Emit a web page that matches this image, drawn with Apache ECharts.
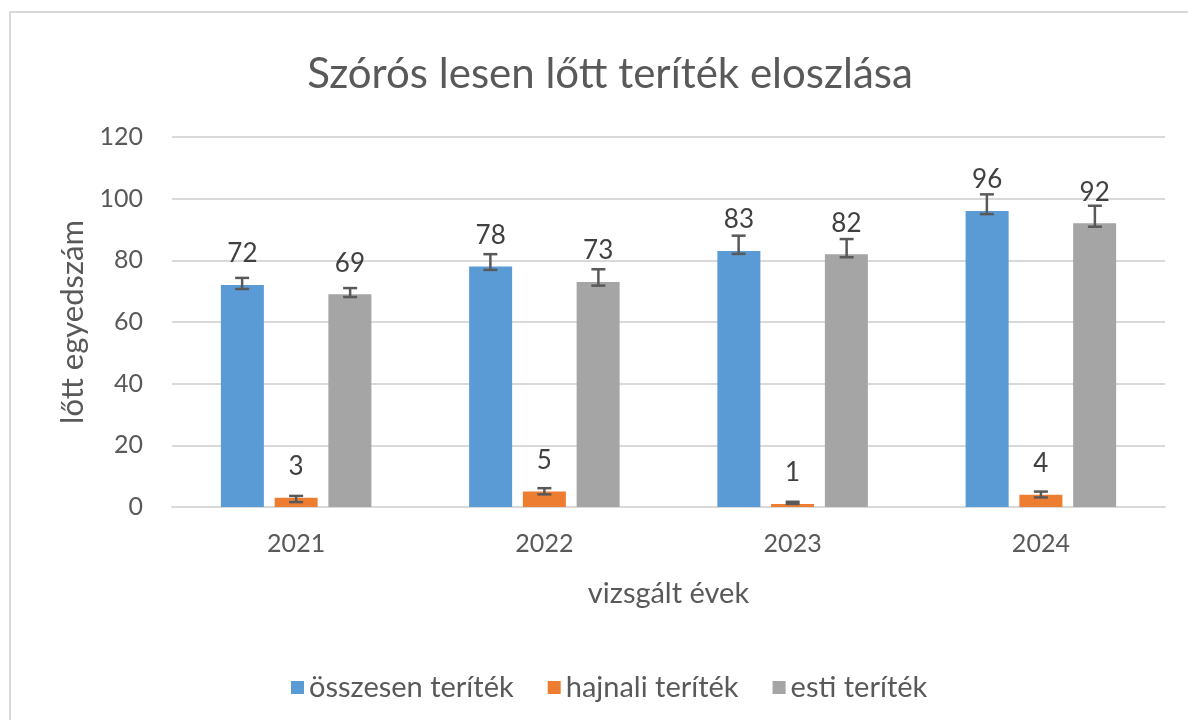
<!DOCTYPE html>
<html>
<head>
<meta charset="utf-8">
<script src="https://cdn.jsdelivr.net/npm/echarts@6/dist/echarts.min.js"></script>
<style>
  html, body { margin: 0; padding: 0; background: #fff; }
  #chart { width: 1188px; height: 720px; }
</style>
</head>
<body>
<div id="chart"></div>
<script>
// chart data
const years = ['2021', '2022', '2023', '2024'];
const seriesNames = ['összesen teríték', 'hajnali teríték', 'esti teríték'];
const totalValues = [72, 78, 83, 96];
const dawnValues = [3, 5, 1, 4];
const eveningValues = [69, 73, 82, 92];
// error bar ends
const totalErrLow = [70.7, 76.9, 82.1, 95.0];
const totalErrHigh = [74.3, 82.0, 88.0, 101.4];
const dawnErrLow = [1.6, 4.1, 1.0, 3.1];
const dawnErrHigh = [3.6, 6.1, 1.7, 5.0];
const eveningErrLow = [68.1, 71.8, 81.0, 90.9];
const eveningErrHigh = [71.0, 77.1, 86.9, 97.7];
const yTicks = [0, 20, 40, 60, 80, 100, 120];

const colors = ['#5B9BD5', '#ED7D31', '#A5A5A5'];
const textColor = '#595959';
const fontFamily = 'Lato, "Open Sans", sans-serif';
const barWidth = 43;
const barGapPx = 11;

const chart = echarts.init(document.getElementById('chart'));

function barSeries(name, values, color) {
    return {
        name: name,
        type: 'bar',
        data: values,
        barWidth: barWidth,
        barGap: '25%',
        itemStyle: { color: color },
        label: {
            show: true,
            position: 'top',
            distance: 18,
            color: '#404040',
            fontSize: 26,
            fontFamily: fontFamily
        },
        z: 2
    };
}

function errorSeries(index, lows, highs) {
    const data = lows.map(function (low, i) {
        return [i, low, highs[i]];
    });
    return {
        type: 'custom',
        name: 'err' + index,
        data: data,
        z: 5,
        silent: true,
        encode: { x: 0, y: [1, 2] },
        renderItem: function (params, api) {
            const cat = api.value(0);
            const lowPt = api.coord([cat, api.value(1)]);
            const highPt = api.coord([cat, api.value(2)]);
            const x = lowPt[0] + (index - 1) * (barWidth + barGapPx);
            const half = 7;
            const style = { stroke: '#595959', lineWidth: 2.5 };
            return {
                type: 'group',
                children: [
                    { type: 'line', shape: { x1: x, y1: highPt[1], x2: x, y2: lowPt[1] }, style: style },
                    { type: 'line', shape: { x1: x - half, y1: highPt[1], x2: x + half, y2: highPt[1] }, style: style },
                    { type: 'line', shape: { x1: x - half, y1: lowPt[1], x2: x + half, y2: lowPt[1] }, style: style }
                ]
            };
        }
    };
}

const options = {
    animation: false,
    textStyle: { fontFamily: fontFamily },
    title: {
        text: 'Szórós lesen lőtt teríték eloszlása',
        left: 605,
        textAlign: 'center',
        top: 48,
        textStyle: {
            color: textColor,
            fontSize: 42,
            fontWeight: 'normal',
            fontFamily: fontFamily
        }
    },
    graphic: [{
        type: 'rect',
        shape: { x: 10, y: 12, width: 1200, height: 740 },
        style: { fill: 'none', stroke: '#d9d9d9', lineWidth: 2 },
        silent: true
    }],
    legend: {
        data: seriesNames,
        top: 668,
        left: 286,
        icon: 'rect',
        itemWidth: 13,
        itemHeight: 13,
        itemGap: 34,
        textStyle: { color: textColor, fontSize: 29, fontFamily: fontFamily }
    },
    grid: {
        left: 172,
        right: 23,
        top: 137,
        bottom: 213,
        containLabel: false
    },
    xAxis: {
        type: 'category',
        data: years,
        name: 'vizsgált évek',
        nameLocation: 'middle',
        nameGap: 72,
        nameTextStyle: { color: textColor, fontSize: 29, fontFamily: fontFamily },
        axisTick: { show: false },
        axisLine: { lineStyle: { color: '#d9d9d9', width: 2 } },
        axisLabel: { color: textColor, fontSize: 25, margin: 24, fontFamily: fontFamily }
    },
    yAxis: {
        type: 'value',
        min: yTicks[0],
        max: yTicks[yTicks.length - 1],
        interval: 20,
        name: 'lőtt egyedszám',
        nameLocation: 'middle',
        nameGap: 84,
        nameRotate: 90,
        nameTextStyle: { color: textColor, fontSize: 31, fontFamily: fontFamily },
        axisLine: { show: false },
        axisTick: { show: false },
        axisLabel: { color: textColor, fontSize: 25, margin: 29, fontFamily: fontFamily },
        splitLine: { lineStyle: { color: '#d9d9d9', width: 2 } }
    },
    series: [
        barSeries(seriesNames[0], totalValues, colors[0]),
        barSeries(seriesNames[1], dawnValues, colors[1]),
        barSeries(seriesNames[2], eveningValues, colors[2]),
        errorSeries(0, totalErrLow, totalErrHigh),
        errorSeries(1, dawnErrLow, dawnErrHigh),
        errorSeries(2, eveningErrLow, eveningErrHigh)
    ]
};

chart.setOption(options);
</script>
</body>
</html>
